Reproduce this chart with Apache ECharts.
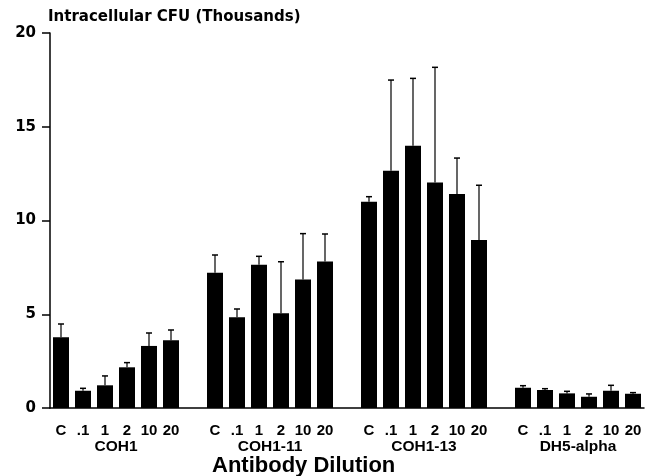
<!DOCTYPE html>
<html>
<head>
<meta charset="utf-8">
<script src="https://cdn.jsdelivr.net/npm/echarts@6/dist/echarts.min.js"></script>
<style>
html,body{margin:0;padding:0;background:#fff;}
#chart{width:656px;height:476px;}
</style>
</head>
<body>
<div id="chart"></div>
<script>
var dilutions = ['C', '.1', '1', '2', '10', '20'];
var groups = ['COH1', 'COH1-11', 'COH1-13', 'DH5-alpha'];

var coh1Mean = [3.77, 0.92, 1.21, 2.17, 3.31, 3.61];
var coh1Top = [4.48, 1.05, 1.71, 2.42, 4.00, 4.16];

var coh111Mean = [7.22, 4.84, 7.64, 5.05, 6.86, 7.82];
var coh111Top = [8.16, 5.28, 8.09, 7.80, 9.30, 9.28];

var coh113Mean = [11.00, 12.66, 13.99, 12.03, 11.41, 8.96];
var coh113Top = [11.27, 17.49, 17.58, 18.17, 13.33, 11.88];

var dh5Mean = [1.08, 0.96, 0.78, 0.60, 0.92, 0.76];
var dh5Top = [1.19, 1.03, 0.89, 0.75, 1.21, 0.82];

var yTicks = [0, 5, 10, 15, 20];

var means = [coh1Mean, coh111Mean, coh113Mean, dh5Mean];
var tops = [coh1Top, coh111Top, coh113Top, dh5Top];

// Build category axis with an empty slot between groups
var cats = [], barData = [], errData = [], groupCenters = [];
groups.forEach(function (g, gi) {
  var start = cats.length;
  dilutions.forEach(function (d, di) {
    var idx = cats.length;
    cats.push(d);
    barData.push(means[gi][di]);
    errData.push([idx, means[gi][di], tops[gi][di]]);
  });
  groupCenters.push((start + cats.length - 1) / 2);
  if (gi < groups.length - 1) { cats.push(''); barData.push('-'); }
});

var chart = echarts.init(document.getElementById('chart'), null, {renderer: 'canvas'});
var dv = 'DejaVu Sans';
var lib = 'Liberation Sans';

chart.setOption({
  animation: false,
  backgroundColor: '#fff',
  title: [
    {text: 'Intracellular CFU (Thousands)', left: 48, top: 10, padding: 0,
     textStyle: {fontFamily: dv, fontWeight: 'bold', fontSize: 15, color: '#000'}},
    {text: 'Antibody Dilution', left: 212, top: 455, padding: 0,
     textStyle: {fontFamily: lib, fontWeight: 'bold', fontSize: 22, color: '#000'}}
  ],
  grid: {left: 50, right: 12, top: 33, bottom: 68, containLabel: false},
  xAxis: [
    {
      type: 'category', data: cats, boundaryGap: true,
      axisLine: {onZero: false, lineStyle: {color: '#000', width: 1.5}},
      axisTick: {alignWithLabel: true, length: 7, lineStyle: {color: '#000', width: 1.5}, interval: 0},
      axisLabel: {interval: 0, margin: 15, color: '#000', fontFamily: lib, fontWeight: 'bold', fontSize: 15}
    },
    {
      type: 'value', position: 'bottom', min: -0.5, max: cats.length - 0.5,
      axisLine: {show: false, onZero: false}, axisTick: {show: false}, splitLine: {show: false},
      axisLabel: {
        customValues: groupCenters, margin: 31, color: '#000', fontFamily: lib, fontWeight: 'bold', fontSize: 15.5,
        formatter: function (v) {
          var i = groupCenters.indexOf(v);
          return i >= 0 ? groups[i] : '';
        }
      }
    }
  ],
  yAxis: {
    type: 'value', min: 0, max: 20, interval: 5,
    axisLine: {show: true, onZero: false, lineStyle: {color: '#000', width: 1.5}},
    axisTick: {show: true, length: 8, lineStyle: {color: '#000', width: 1.5}},
    splitLine: {show: false},
    axisLabel: {margin: 14, color: '#000', fontFamily: dv, fontWeight: 'bold', fontSize: 15,
      formatter: function (v) { return yTicks.indexOf(v) >= 0 ? String(v) : ''; }}
  },
  series: [
    {
      type: 'bar', data: barData, barWidth: 16, xAxisIndex: 0,
      itemStyle: {color: '#000'}, z: 2
    },
    {
      type: 'custom', xAxisIndex: 0, data: errData, z: 3,
      renderItem: function (params, api) {
        var x = api.value(0);
        var lo = api.coord([x, api.value(1)]);
        var hi = api.coord([x, api.value(2)]);
        var cap = 3;
        return {
          type: 'group',
          children: [
            {type: 'line', shape: {x1: lo[0], y1: lo[1], x2: hi[0], y2: hi[1]},
             style: {stroke: '#000', lineWidth: 1.2}},
            {type: 'line', shape: {x1: hi[0] - cap, y1: hi[1], x2: hi[0] + cap, y2: hi[1]},
             style: {stroke: '#000', lineWidth: 1.5}}
          ]
        };
      }
    }
  ]
});
</script>
</body>
</html>
